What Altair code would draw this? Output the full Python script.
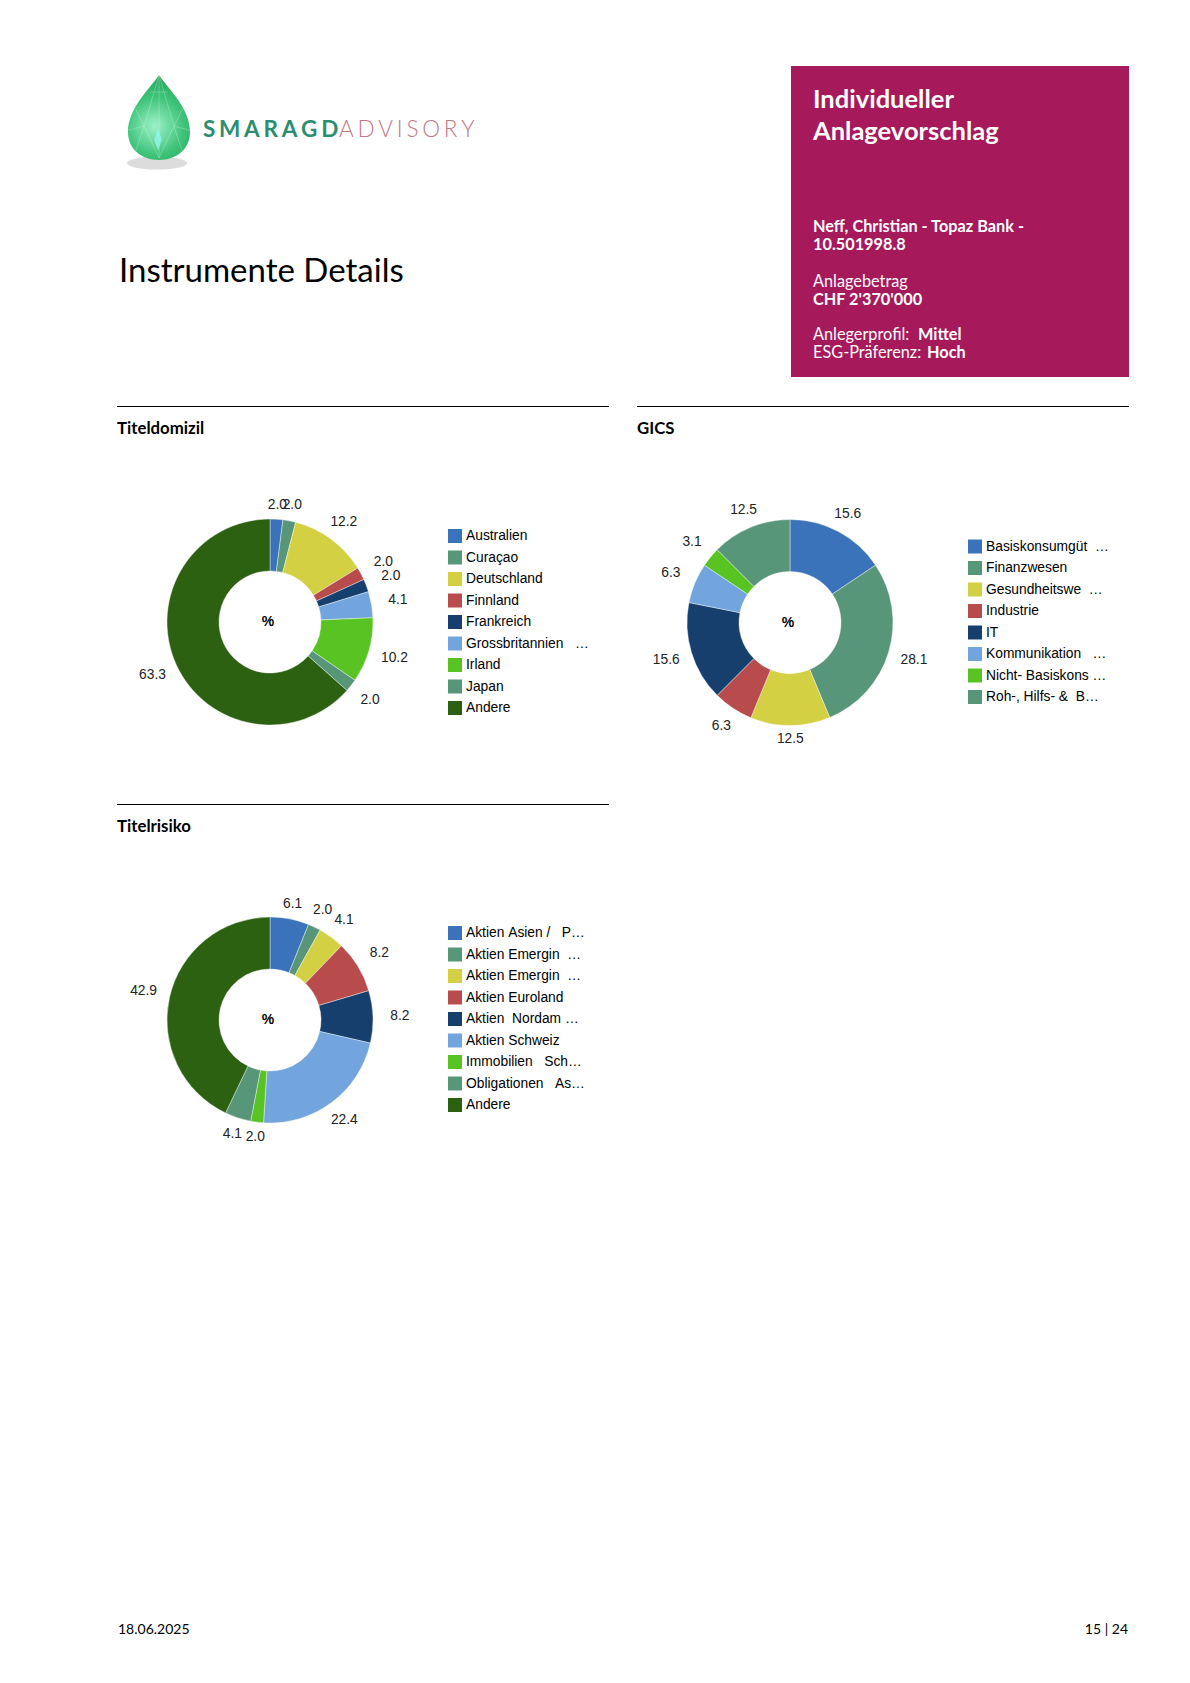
import altair as alt
import pandas as pd

# ---------------- data ----------------
dom_cats = ["Australien", "Curaçao", "Deutschland", "Finnland", "Frankreich",
            "Grossbritannien\u00a0\u00a0\u00a0…", "Irland", "Japan", "Andere"]
dom_vals = [2.0, 2.0, 12.2, 2.0, 2.0, 4.1, 10.2, 2.0, 63.3]
dom_colors = ["#3A73B9", "#58967A", "#D3D043", "#B84B4B", "#163F6E",
              "#72A4DE", "#58C322", "#58967A", "#2D6112"]

gics_cats = ["Basiskonsumgüt\u00a0\u00a0…", "Finanzwesen", "Gesundheitswe\u00a0\u00a0…", "Industrie", "IT",
             "Kommunikation\u00a0\u00a0\u00a0…", "Nicht-\u00a0Basiskons\u00a0…", "Roh-,\u00a0Hilfs-\u00a0&\u00a0\u00a0B…"]
gics_vals = [15.6, 28.1, 12.5, 6.3, 15.6, 6.3, 3.1, 12.5]
gics_colors = ["#3A73B9", "#58967A", "#D3D043", "#B84B4B", "#163F6E",
               "#72A4DE", "#58C322", "#58967A"]

risk_cats = ["Aktien\u00a0Asien\u00a0/\u00a0\u00a0\u00a0P…", "Aktien\u00a0Emergin\u00a0\u00a0…", "Aktien\u00a0Emergin \u00a0…",
             "Aktien\u00a0Euroland", "Aktien\u00a0\u00a0Nordam\u00a0…", "Aktien\u00a0Schweiz",
             "Immobilien\u00a0\u00a0\u00a0Sch…", "Obligationen\u00a0\u00a0\u00a0As…", "Andere"]
risk_vals = [6.1, 2.0, 4.1, 8.2, 8.2, 22.4, 2.0, 4.1, 42.9]
risk_colors = ["#3A73B9", "#58967A", "#D3D043", "#B84B4B", "#163F6E",
               "#72A4DE", "#58C322", "#58967A", "#2D6112"]

# ---------------- layout ----------------
W, H = 1174, 1667
M = 8  # page margin offset
HEAD = "Lato"
LAB = "Liberation Sans"
one = pd.DataFrame({"k": [0]})


def P(v):
    return v - M


def txt(s, x, y, size, weight="normal", color="#000", align="left", font=HEAD):
    return alt.Chart(one).mark_text(
        text=s, font=font, fontSize=size, fontWeight=weight, color=color,
        align=align, baseline="alphabetic"
    ).encode(x=alt.value(P(x)), y=alt.value(P(y)))


def rule(x1, x2, y):
    return alt.Chart(one).mark_rule(color="#000", strokeWidth=1).encode(
        x=alt.value(P(x1)), x2=alt.value(P(x2)), y=alt.value(P(y) + 0.5))


def donut(cats, vals, colors, cx, cy, lx, ly):
    df = pd.DataFrame({"cat": cats, "val": vals, "idx": list(range(len(cats))),
                       "lab": [f"{v:.1f}" for v in vals]})
    arc = alt.Chart(df).mark_arc(outerRadius=103, innerRadius=51, stroke="white",
                                 strokeWidth=0.4).encode(
        theta=alt.Theta("val:Q", stack=True),
        order=alt.Order("idx:Q"),
        x=alt.value(P(cx)), y=alt.value(P(cy)),
        color=alt.Color("cat:N", scale=alt.Scale(domain=cats, range=colors),
                        legend=alt.Legend(orient="none", legendX=P(lx), legendY=P(ly),
                                          title=None, symbolType="square", symbolSize=196,
                                          symbolStrokeWidth=0, labelFont=LAB, labelFontSize=13.8,
                                          labelColor="#000", rowPadding=7.5, labelOffset=4,
                                          padding=0, labelLimit=300)),
    )
    lbl = alt.Chart(df).transform_joinaggregate(
        total="sum(val)"
    ).transform_window(
        cum="sum(val)", sort=[alt.SortField("idx")], frame=[None, 0]
    ).transform_calculate(
        ang="2 * PI * (datum.cum - datum.val / 2) / datum.total"
    ).transform_calculate(
        lr="116 + 14 * abs(sin(datum.ang))"
    ).mark_text(font=LAB, fontSize=13.8, color="#222").encode(
        x=alt.value(P(cx)), y=alt.value(P(cy)), text="lab:N",
        theta=alt.Theta("ang:Q", scale=None, stack=False),
        radius=alt.Radius("lr:Q", scale=None))
    pct = alt.Chart(one).mark_text(text="%", font=LAB, fontSize=14, fontWeight="bold",
                                   color="#000").encode(x=alt.value(P(cx - 2)), y=alt.value(P(cy)))
    return alt.layer(arc, lbl, pct)


layers = []

# logo
drop_path = ("M0,-1 C0.12,-0.78 0.73,-0.25 0.73,0.33 C0.73,0.76 0.4,1 0,1 "
             "C-0.4,1 -0.73,0.76 -0.73,0.33 C-0.73,-0.25 -0.12,-0.78 0,-1 Z")
facet_path = ("M0,-1 L-0.35,0.2 L0,0.95 L0.35,0.2 Z M-0.72,0.3 L-0.35,0.2 L-0.55,-0.2 "
              "M0.72,0.3 L0.35,0.2 L0.55,-0.2 M0,-1 L0,0.95 M-0.55,0.8 L-0.35,0.2 "
              "M0.55,0.8 L0.35,0.2 M-0.2,-0.6 L0.2,-0.6")
ell_path = "M-1,0 A1,0.22 0 1,0 1,0 A1,0.22 0 1,0 -1,0 Z"
kite_path = "M0,-1 L0.35,0.1 L0,1 L-0.35,0.1 Z"
layers.append(alt.Chart(one).mark_point(shape=ell_path, size=3600, filled=True,
                                        fill="#9a9a9a", opacity=0.35, strokeWidth=0)
              .encode(x=alt.value(P(157)), y=alt.value(P(163))))
layers.append(alt.Chart(one).mark_point(
    shape=drop_path, size=7225, filled=True, strokeWidth=0, opacity=1,
    fill=alt.Gradient(gradient="radial", x1=0.45, y1=0.6, x2=0.45, y2=0.6, r1=0, r2=0.75,
                      stops=[alt.GradientStop(color="#9EF2C8", offset=0),
                             alt.GradientStop(color="#3FC47A", offset=0.45),
                             alt.GradientStop(color="#169048", offset=1)]))
    .encode(x=alt.value(P(159)), y=alt.value(P(117.5))))
layers.append(alt.Chart(one).mark_point(shape=facet_path, size=7225, filled=False,
                                        stroke="#E8FFF0", strokeWidth=0.8, opacity=0.35)
              .encode(x=alt.value(P(159)), y=alt.value(P(117.5))))
layers.append(alt.Chart(one).mark_point(shape=kite_path, size=500, filled=True,
                                        fill="#8FF5E8", opacity=0.85, strokeWidth=0)
              .encode(x=alt.value(P(158)), y=alt.value(P(139))))
sp = "\u2006"
layers.append(txt(sp.join("SMARAGD"), 203, 137, 22.5, "bold", "#2B8E70"))
layers.append(txt(sp.join("ADVISORY"), 339, 137, 22.5, 300, "#C47888"))

# magenta box
layers.append(alt.Chart(one).mark_rect(color="#A6195A").encode(
    x=alt.value(P(791)), x2=alt.value(P(1129)), y=alt.value(P(66)), y2=alt.value(P(377))))
layers += [
    txt("Individueller", 813, 108, 25.5, "bold", "#fff"),
    txt("Anlagevorschlag", 813, 140, 25.5, "bold", "#fff"),
    txt("Neff, Christian - Topaz Bank -", 813, 232, 16.3, "bold", "#fff"),
    txt("10.501998.8", 813, 250, 16.3, "bold", "#fff"),
    txt("Anlagebetrag", 813, 287, 16.3, "normal", "#fff"),
    txt("CHF 2'370'000", 813, 304.5, 16.3, "bold", "#fff"),
    txt("Anlegerprofil: ", 813, 340, 16.3, "normal", "#fff"),
    txt("Mittel", 918, 340, 16.3, "bold", "#fff"),
    txt("ESG-Präferenz: ", 813, 358, 16.3, "normal", "#fff"),
    txt("Hoch", 927, 358, 16.3, "bold", "#fff"),
]

# page title
layers.append(txt("Instrumente Details", 119, 282, 33, "normal", "#000"))

# section headers
layers += [
    rule(117, 609, 406), rule(637, 1129, 406), rule(117, 609, 804),
    txt("Titeldomizil", 117, 433.5, 16.8, "bold"),
    txt("GICS", 637, 433.5, 16.8, "bold"),
    txt("Titelrisiko", 117, 831.5, 16.8, "bold"),
]

# footer
layers += [
    txt("18.06.2025", 118, 1634, 14, "normal", "#000"),
    txt("15 | 24", 1128, 1634, 14, "normal", "#000", align="right"),
]

# donuts
layers.append(donut(dom_cats, dom_vals, dom_colors, 270, 622, 448, 529))
layers.append(donut(gics_cats, gics_vals, gics_colors, 790, 622.5, 968, 539.5))
layers.append(donut(risk_cats, risk_vals, risk_colors, 270, 1020, 448, 926))

chart = alt.layer(*layers).resolve_scale(
    color="independent", theta="independent"
).properties(
    width=W, height=H, autosize=alt.AutoSizeParams(type="none"), padding=0
).configure_view(stroke=None)

chart.save("out.html", embed_options={"renderer": "svg", "actions": False})
